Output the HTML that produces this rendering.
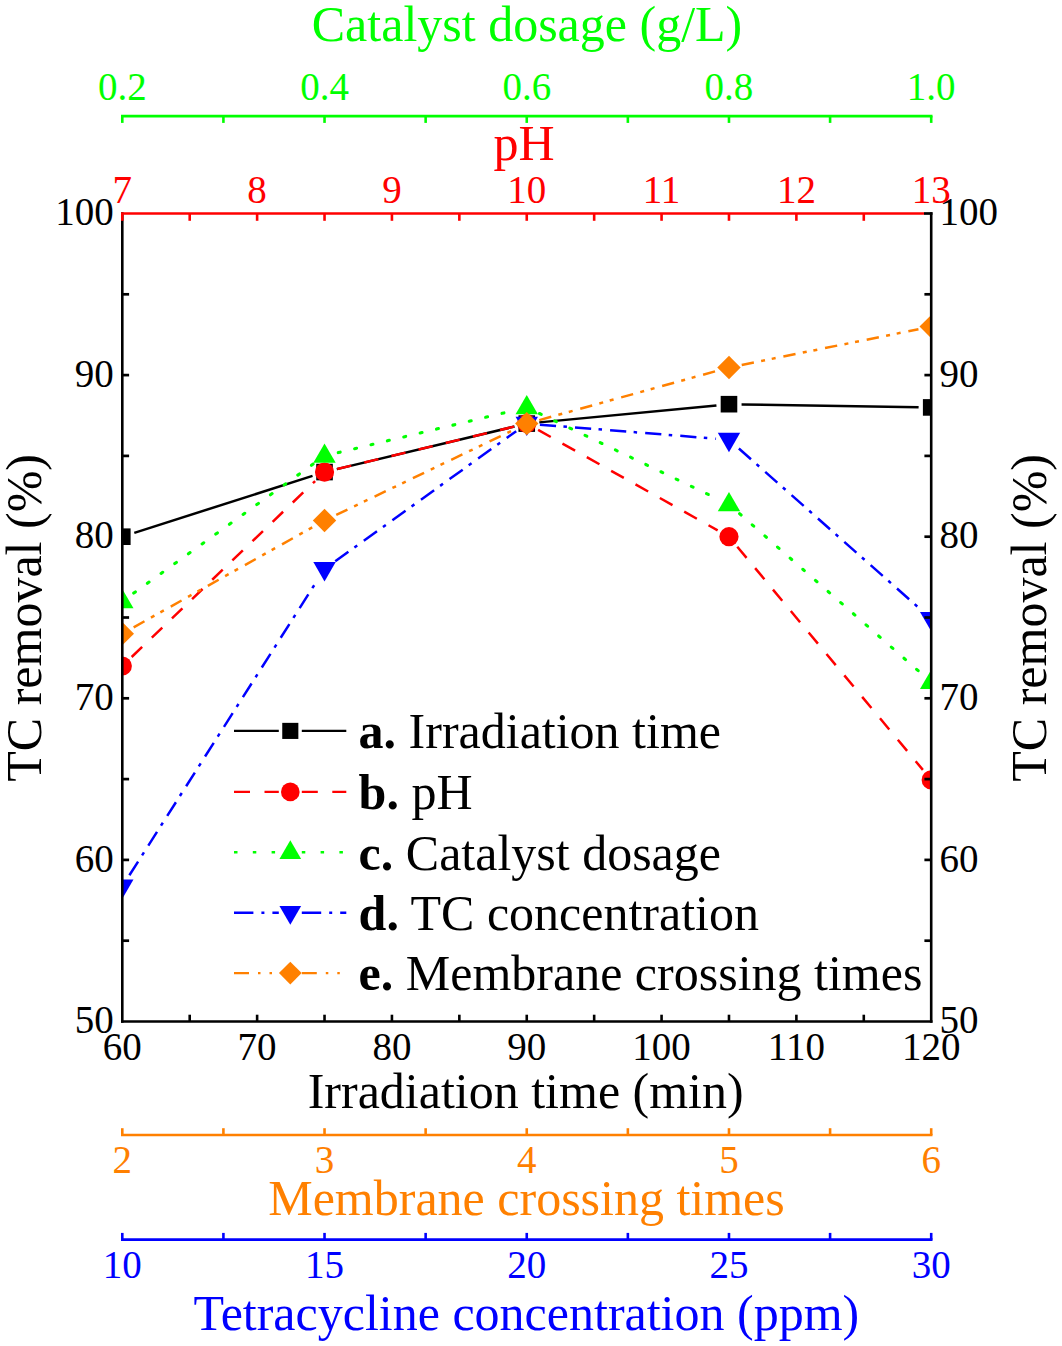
<!DOCTYPE html><html><head><meta charset="utf-8"><style>html,body{margin:0;padding:0;background:#fff;}svg{display:block}</style></head><body>
<svg width="1062" height="1346" viewBox="0 0 1062 1346" font-family='"Liberation Serif", serif'>
<rect width="1062" height="1346" fill="#fff"/>
<defs><clipPath id="pc"><rect x="122.3" y="213.5" width="808.9000000000001" height="808.0"/></clipPath></defs>
<g clip-path="url(#pc)">
<line x1="134.30" y1="532.86" x2="312.52" y2="475.90" stroke="#000000" stroke-width="2.5"/>
<line x1="336.78" y1="469.12" x2="514.50" y2="426.52" stroke="#000000" stroke-width="2.5"/>
<line x1="539.29" y1="422.38" x2="716.43" y2="405.39" stroke="#000000" stroke-width="2.5"/>
<line x1="741.57" y1="404.39" x2="918.60" y2="407.22" stroke="#000000" stroke-width="2.5"/>
<line x1="131.68" y1="656.98" x2="315.14" y2="481.06" stroke="#FF0000" stroke-width="2.5" stroke-dasharray="14.5 13.4"/>
<line x1="337.17" y1="469.03" x2="514.11" y2="426.61" stroke="#FF0000" stroke-width="2.5" stroke-dasharray="14.5 13.4"/>
<line x1="538.10" y1="429.93" x2="717.63" y2="530.35" stroke="#FF0000" stroke-width="2.5" stroke-dasharray="14.5 13.4"/>
<line x1="737.29" y1="546.70" x2="922.89" y2="769.91" stroke="#FF0000" stroke-width="2.5" stroke-dasharray="14.5 13.4"/>
<line x1="133.75" y1="593.11" x2="313.97" y2="463.49" stroke="#00FF00" stroke-width="3.1" stroke-dasharray="2 14.84" stroke-linecap="round"/>
<line x1="338.24" y1="452.61" x2="514.11" y2="410.45" stroke="#00FF00" stroke-width="3.1" stroke-dasharray="2 14.84" stroke-linecap="round"/>
<line x1="539.46" y1="413.52" x2="717.25" y2="498.76" stroke="#00FF00" stroke-width="3.1" stroke-dasharray="2 14.84" stroke-linecap="round"/>
<line x1="739.57" y1="513.69" x2="921.44" y2="673.56" stroke="#00FF00" stroke-width="3.1" stroke-dasharray="2 14.84" stroke-linecap="round"/>
<line x1="129.39" y1="875.27" x2="317.54" y2="579.98" stroke="#0000FF" stroke-width="2.5" stroke-dasharray="16.2 7.4 3.5 8.1"/>
<line x1="335.24" y1="561.31" x2="516.20" y2="431.17" stroke="#0000FF" stroke-width="2.5" stroke-dasharray="16.2 7.4 3.5 8.1"/>
<line x1="539.91" y1="424.63" x2="716.02" y2="438.70" stroke="#0000FF" stroke-width="2.5" stroke-dasharray="16.2 7.4 3.5 8.1"/>
<line x1="738.86" y1="448.49" x2="921.47" y2="610.17" stroke="#0000FF" stroke-width="2.5" stroke-dasharray="16.2 7.4 3.5 8.1"/>
<line x1="133.65" y1="627.31" x2="313.18" y2="526.89" stroke="#FF8000" stroke-width="2.5" stroke-dasharray="12.4 7.4 4 6.8 4 7.9"/>
<line x1="336.25" y1="514.92" x2="515.03" y2="429.20" stroke="#FF8000" stroke-width="2.5" stroke-dasharray="12.4 7.4 4 6.8 4 7.9"/>
<line x1="539.28" y1="420.11" x2="716.45" y2="370.98" stroke="#FF8000" stroke-width="2.5" stroke-dasharray="12.4 7.4 4 6.8 4 7.9"/>
<line x1="741.72" y1="364.93" x2="918.46" y2="329.20" stroke="#FF8000" stroke-width="2.5" stroke-dasharray="12.4 7.4 4 6.8 4 7.9"/>
<rect x="114.00" y="528.40" width="16.60" height="16.60" fill="#000000"/>
<rect x="316.23" y="463.76" width="16.60" height="16.60" fill="#000000"/>
<rect x="518.45" y="415.28" width="16.60" height="16.60" fill="#000000"/>
<rect x="720.68" y="395.89" width="16.60" height="16.60" fill="#000000"/>
<rect x="922.90" y="399.12" width="16.60" height="16.60" fill="#000000"/>
<circle cx="122.30" cy="665.98" r="9.60" fill="#FF0000"/>
<circle cx="324.53" cy="472.06" r="9.60" fill="#FF0000"/>
<circle cx="526.75" cy="423.58" r="9.60" fill="#FF0000"/>
<circle cx="728.98" cy="536.70" r="9.60" fill="#FF0000"/>
<circle cx="931.20" cy="779.91" r="9.60" fill="#FF0000"/>
<polygon points="122.30,588.94 133.50,608.24 111.10,608.24" fill="#00FF00"/>
<polygon points="324.53,443.50 335.73,462.80 313.33,462.80" fill="#00FF00"/>
<polygon points="526.75,395.02 537.95,414.32 515.55,414.32" fill="#00FF00"/>
<polygon points="728.98,491.98 740.18,511.28 717.77,511.28" fill="#00FF00"/>
<polygon points="931.20,669.74 942.40,689.04 920.00,689.04" fill="#00FF00"/>
<polygon points="111.10,879.50 133.50,879.50 122.30,898.80" fill="#0000FF"/>
<polygon points="313.33,562.12 335.73,562.12 324.53,581.42" fill="#0000FF"/>
<polygon points="515.55,416.68 537.95,416.68 526.75,435.98" fill="#0000FF"/>
<polygon points="717.77,432.84 740.18,432.84 728.98,452.14" fill="#0000FF"/>
<polygon points="920.00,611.89 942.40,611.89 931.20,631.19" fill="#0000FF"/>
<polygon points="122.30,621.96 134.00,633.66 122.30,645.36 110.60,633.66" fill="#FF8000"/>
<polygon points="324.53,508.84 336.23,520.54 324.53,532.24 312.83,520.54" fill="#FF8000"/>
<polygon points="526.75,411.88 538.45,423.58 526.75,435.28 515.05,423.58" fill="#FF8000"/>
<polygon points="728.98,355.80 740.68,367.50 728.98,379.20 717.27,367.50" fill="#FF8000"/>
<polygon points="931.20,314.92 942.90,326.62 931.20,338.32 919.50,326.62" fill="#FF8000"/>
</g>
<line x1="122.3" y1="212.2" x2="122.3" y2="1022.85" stroke="#000" stroke-width="2.6"/>
<line x1="931.2" y1="212.2" x2="931.2" y2="1022.85" stroke="#000" stroke-width="2.6"/>
<line x1="121.0" y1="1021.5" x2="932.5" y2="1021.5" stroke="#000" stroke-width="2.7"/>
<line x1="121.0" y1="213.5" x2="924" y2="213.5" stroke="#FF0000" stroke-width="2.7"/>
<line x1="924" y1="213.5" x2="932.5" y2="213.5" stroke="#000" stroke-width="2.7"/>
<line x1="189.71" y1="1021.5" x2="189.71" y2="1014.7" stroke="#000" stroke-width="2.6"/>
<line x1="257.12" y1="1021.5" x2="257.12" y2="1014.7" stroke="#000" stroke-width="2.6"/>
<line x1="324.53" y1="1021.5" x2="324.53" y2="1014.7" stroke="#000" stroke-width="2.6"/>
<line x1="391.93" y1="1021.5" x2="391.93" y2="1014.7" stroke="#000" stroke-width="2.6"/>
<line x1="459.34" y1="1021.5" x2="459.34" y2="1014.7" stroke="#000" stroke-width="2.6"/>
<line x1="526.75" y1="1021.5" x2="526.75" y2="1014.7" stroke="#000" stroke-width="2.6"/>
<line x1="594.16" y1="1021.5" x2="594.16" y2="1014.7" stroke="#000" stroke-width="2.6"/>
<line x1="661.57" y1="1021.5" x2="661.57" y2="1014.7" stroke="#000" stroke-width="2.6"/>
<line x1="728.98" y1="1021.5" x2="728.98" y2="1014.7" stroke="#000" stroke-width="2.6"/>
<line x1="796.38" y1="1021.5" x2="796.38" y2="1014.7" stroke="#000" stroke-width="2.6"/>
<line x1="863.79" y1="1021.5" x2="863.79" y2="1014.7" stroke="#000" stroke-width="2.6"/>
<line x1="122.3" y1="940.7" x2="129.1" y2="940.7" stroke="#000" stroke-width="2.7"/>
<line x1="924.4000000000001" y1="940.7" x2="931.2" y2="940.7" stroke="#000" stroke-width="2.7"/>
<line x1="122.3" y1="859.9" x2="129.1" y2="859.9" stroke="#000" stroke-width="2.7"/>
<line x1="924.4000000000001" y1="859.9" x2="931.2" y2="859.9" stroke="#000" stroke-width="2.7"/>
<line x1="122.3" y1="779.1" x2="129.1" y2="779.1" stroke="#000" stroke-width="2.7"/>
<line x1="924.4000000000001" y1="779.1" x2="931.2" y2="779.1" stroke="#000" stroke-width="2.7"/>
<line x1="122.3" y1="698.3" x2="129.1" y2="698.3" stroke="#000" stroke-width="2.7"/>
<line x1="924.4000000000001" y1="698.3" x2="931.2" y2="698.3" stroke="#000" stroke-width="2.7"/>
<line x1="122.3" y1="617.5" x2="129.1" y2="617.5" stroke="#000" stroke-width="2.7"/>
<line x1="924.4000000000001" y1="617.5" x2="931.2" y2="617.5" stroke="#000" stroke-width="2.7"/>
<line x1="122.3" y1="536.7" x2="129.1" y2="536.7" stroke="#000" stroke-width="2.7"/>
<line x1="924.4000000000001" y1="536.7" x2="931.2" y2="536.7" stroke="#000" stroke-width="2.7"/>
<line x1="122.3" y1="455.9" x2="129.1" y2="455.9" stroke="#000" stroke-width="2.7"/>
<line x1="924.4000000000001" y1="455.9" x2="931.2" y2="455.9" stroke="#000" stroke-width="2.7"/>
<line x1="122.3" y1="375.1" x2="129.1" y2="375.1" stroke="#000" stroke-width="2.7"/>
<line x1="924.4000000000001" y1="375.1" x2="931.2" y2="375.1" stroke="#000" stroke-width="2.7"/>
<line x1="122.3" y1="294.3" x2="129.1" y2="294.3" stroke="#000" stroke-width="2.7"/>
<line x1="924.4000000000001" y1="294.3" x2="931.2" y2="294.3" stroke="#000" stroke-width="2.7"/>
<line x1="122.3" y1="213.5" x2="122.3" y2="220.8" stroke="#FF0000" stroke-width="2.6"/>
<line x1="189.71" y1="213.5" x2="189.71" y2="220.8" stroke="#FF0000" stroke-width="2.6"/>
<line x1="257.12" y1="213.5" x2="257.12" y2="220.8" stroke="#FF0000" stroke-width="2.6"/>
<line x1="324.53" y1="213.5" x2="324.53" y2="220.8" stroke="#FF0000" stroke-width="2.6"/>
<line x1="391.93" y1="213.5" x2="391.93" y2="220.8" stroke="#FF0000" stroke-width="2.6"/>
<line x1="459.34" y1="213.5" x2="459.34" y2="220.8" stroke="#FF0000" stroke-width="2.6"/>
<line x1="526.75" y1="213.5" x2="526.75" y2="220.8" stroke="#FF0000" stroke-width="2.6"/>
<line x1="594.16" y1="213.5" x2="594.16" y2="220.8" stroke="#FF0000" stroke-width="2.6"/>
<line x1="661.57" y1="213.5" x2="661.57" y2="220.8" stroke="#FF0000" stroke-width="2.6"/>
<line x1="728.98" y1="213.5" x2="728.98" y2="220.8" stroke="#FF0000" stroke-width="2.6"/>
<line x1="796.38" y1="213.5" x2="796.38" y2="220.8" stroke="#FF0000" stroke-width="2.6"/>
<line x1="863.79" y1="213.5" x2="863.79" y2="220.8" stroke="#FF0000" stroke-width="2.6"/>
<line x1="121.0" y1="116.1" x2="932.5" y2="116.1" stroke="#00FF00" stroke-width="2.7"/>
<line x1="122.3" y1="116.1" x2="122.3" y2="122.89999999999999" stroke="#00FF00" stroke-width="2.6"/>
<line x1="223.41" y1="116.1" x2="223.41" y2="122.89999999999999" stroke="#00FF00" stroke-width="2.6"/>
<line x1="324.53" y1="116.1" x2="324.53" y2="122.89999999999999" stroke="#00FF00" stroke-width="2.6"/>
<line x1="425.64" y1="116.1" x2="425.64" y2="122.89999999999999" stroke="#00FF00" stroke-width="2.6"/>
<line x1="526.75" y1="116.1" x2="526.75" y2="122.89999999999999" stroke="#00FF00" stroke-width="2.6"/>
<line x1="627.86" y1="116.1" x2="627.86" y2="122.89999999999999" stroke="#00FF00" stroke-width="2.6"/>
<line x1="728.98" y1="116.1" x2="728.98" y2="122.89999999999999" stroke="#00FF00" stroke-width="2.6"/>
<line x1="830.09" y1="116.1" x2="830.09" y2="122.89999999999999" stroke="#00FF00" stroke-width="2.6"/>
<line x1="931.2" y1="116.1" x2="931.2" y2="122.89999999999999" stroke="#00FF00" stroke-width="2.6"/>
<line x1="121.0" y1="1135.0" x2="932.5" y2="1135.0" stroke="#FF8000" stroke-width="2.7"/>
<line x1="122.3" y1="1135.0" x2="122.3" y2="1128.2" stroke="#FF8000" stroke-width="2.6"/>
<line x1="223.41" y1="1135.0" x2="223.41" y2="1128.2" stroke="#FF8000" stroke-width="2.6"/>
<line x1="324.53" y1="1135.0" x2="324.53" y2="1128.2" stroke="#FF8000" stroke-width="2.6"/>
<line x1="425.64" y1="1135.0" x2="425.64" y2="1128.2" stroke="#FF8000" stroke-width="2.6"/>
<line x1="526.75" y1="1135.0" x2="526.75" y2="1128.2" stroke="#FF8000" stroke-width="2.6"/>
<line x1="627.86" y1="1135.0" x2="627.86" y2="1128.2" stroke="#FF8000" stroke-width="2.6"/>
<line x1="728.98" y1="1135.0" x2="728.98" y2="1128.2" stroke="#FF8000" stroke-width="2.6"/>
<line x1="830.09" y1="1135.0" x2="830.09" y2="1128.2" stroke="#FF8000" stroke-width="2.6"/>
<line x1="931.2" y1="1135.0" x2="931.2" y2="1128.2" stroke="#FF8000" stroke-width="2.6"/>
<line x1="121.0" y1="1239.7" x2="932.5" y2="1239.7" stroke="#0000FF" stroke-width="2.7"/>
<line x1="122.3" y1="1239.7" x2="122.3" y2="1232.9" stroke="#0000FF" stroke-width="2.6"/>
<line x1="223.41" y1="1239.7" x2="223.41" y2="1232.9" stroke="#0000FF" stroke-width="2.6"/>
<line x1="324.53" y1="1239.7" x2="324.53" y2="1232.9" stroke="#0000FF" stroke-width="2.6"/>
<line x1="425.64" y1="1239.7" x2="425.64" y2="1232.9" stroke="#0000FF" stroke-width="2.6"/>
<line x1="526.75" y1="1239.7" x2="526.75" y2="1232.9" stroke="#0000FF" stroke-width="2.6"/>
<line x1="627.86" y1="1239.7" x2="627.86" y2="1232.9" stroke="#0000FF" stroke-width="2.6"/>
<line x1="728.98" y1="1239.7" x2="728.98" y2="1232.9" stroke="#0000FF" stroke-width="2.6"/>
<line x1="830.09" y1="1239.7" x2="830.09" y2="1232.9" stroke="#0000FF" stroke-width="2.6"/>
<line x1="931.2" y1="1239.7" x2="931.2" y2="1232.9" stroke="#0000FF" stroke-width="2.6"/>
<text x="122.30" y="99.60" fill="#00FF00" font-size="39" text-anchor="middle">0.2</text>
<text x="324.53" y="99.60" fill="#00FF00" font-size="39" text-anchor="middle">0.4</text>
<text x="526.75" y="99.60" fill="#00FF00" font-size="39" text-anchor="middle">0.6</text>
<text x="728.98" y="99.60" fill="#00FF00" font-size="39" text-anchor="middle">0.8</text>
<text x="931.20" y="99.60" fill="#00FF00" font-size="39" text-anchor="middle">1.0</text>
<text x="122.30" y="202.90" fill="#FF0000" font-size="39" text-anchor="middle">7</text>
<text x="257.12" y="202.90" fill="#FF0000" font-size="39" text-anchor="middle">8</text>
<text x="391.93" y="202.90" fill="#FF0000" font-size="39" text-anchor="middle">9</text>
<text x="526.75" y="202.90" fill="#FF0000" font-size="39" text-anchor="middle">10</text>
<text x="661.57" y="202.90" fill="#FF0000" font-size="39" text-anchor="middle">11</text>
<text x="796.38" y="202.90" fill="#FF0000" font-size="39" text-anchor="middle">12</text>
<text x="931.20" y="202.90" fill="#FF0000" font-size="39" text-anchor="middle">13</text>
<text x="122.30" y="1060.40" fill="#000" font-size="39" text-anchor="middle">60</text>
<text x="257.12" y="1060.40" fill="#000" font-size="39" text-anchor="middle">70</text>
<text x="391.93" y="1060.40" fill="#000" font-size="39" text-anchor="middle">80</text>
<text x="526.75" y="1060.40" fill="#000" font-size="39" text-anchor="middle">90</text>
<text x="661.57" y="1060.40" fill="#000" font-size="39" text-anchor="middle">100</text>
<text x="796.38" y="1060.40" fill="#000" font-size="39" text-anchor="middle">110</text>
<text x="931.20" y="1060.40" fill="#000" font-size="39" text-anchor="middle">120</text>
<text x="122.30" y="1172.80" fill="#FF8000" font-size="39" text-anchor="middle">2</text>
<text x="324.53" y="1172.80" fill="#FF8000" font-size="39" text-anchor="middle">3</text>
<text x="526.75" y="1172.80" fill="#FF8000" font-size="39" text-anchor="middle">4</text>
<text x="728.98" y="1172.80" fill="#FF8000" font-size="39" text-anchor="middle">5</text>
<text x="931.20" y="1172.80" fill="#FF8000" font-size="39" text-anchor="middle">6</text>
<text x="122.30" y="1277.60" fill="#0000FF" font-size="39" text-anchor="middle">10</text>
<text x="324.53" y="1277.60" fill="#0000FF" font-size="39" text-anchor="middle">15</text>
<text x="526.75" y="1277.60" fill="#0000FF" font-size="39" text-anchor="middle">20</text>
<text x="728.98" y="1277.60" fill="#0000FF" font-size="39" text-anchor="middle">25</text>
<text x="931.20" y="1277.60" fill="#0000FF" font-size="39" text-anchor="middle">30</text>
<text x="113.80" y="1033.20" fill="#000" font-size="39" text-anchor="end">50</text>
<text x="939.60" y="1033.20" fill="#000" font-size="39" text-anchor="start">50</text>
<text x="113.80" y="871.60" fill="#000" font-size="39" text-anchor="end">60</text>
<text x="939.60" y="871.60" fill="#000" font-size="39" text-anchor="start">60</text>
<text x="113.80" y="710.00" fill="#000" font-size="39" text-anchor="end">70</text>
<text x="939.60" y="710.00" fill="#000" font-size="39" text-anchor="start">70</text>
<text x="113.80" y="548.40" fill="#000" font-size="39" text-anchor="end">80</text>
<text x="939.60" y="548.40" fill="#000" font-size="39" text-anchor="start">80</text>
<text x="113.80" y="386.80" fill="#000" font-size="39" text-anchor="end">90</text>
<text x="939.60" y="386.80" fill="#000" font-size="39" text-anchor="start">90</text>
<text x="113.80" y="225.20" fill="#000" font-size="39" text-anchor="end">100</text>
<text x="939.60" y="225.20" fill="#000" font-size="39" text-anchor="start">100</text>
<text x="527.00" y="40.70" fill="#00FF00" font-size="50" text-anchor="middle">Catalyst dosage (g/L)</text>
<text x="524.00" y="160.10" fill="#FF0000" font-size="50" text-anchor="middle">pH</text>
<text x="525.70" y="1107.90" fill="#000" font-size="50" text-anchor="middle">Irradiation time (min)</text>
<text x="526.50" y="1215.30" fill="#FF8000" font-size="50" text-anchor="middle">Membrane crossing times</text>
<text x="526.40" y="1330.30" fill="#0000FF" font-size="50" text-anchor="middle">Tetracycline concentration (ppm)</text>
<text transform="translate(41.2,617.9) rotate(-90)" x="0" y="0" fill="#000" font-size="50" text-anchor="middle">TC removal (%)</text>
<text transform="translate(1046.3,617.9) rotate(-90)" x="0" y="0" fill="#000" font-size="50" text-anchor="middle">TC removal (%)</text>
<line x1="234.0" y1="730.90" x2="278.8" y2="730.90" stroke="#000000" stroke-width="2.4"/>
<line x1="301.8" y1="730.90" x2="346.3" y2="730.90" stroke="#000000" stroke-width="2.4"/>
<rect x="282.25" y="722.85" width="16.10" height="16.10" fill="#000000"/>
<text x="358.6" y="748.20" fill="#000" font-size="50"><tspan font-weight="bold">a.</tspan> Irradiation time</text>
<line x1="234.0" y1="791.90" x2="278.8" y2="791.90" stroke="#FF0000" stroke-width="2.4" stroke-dasharray="16 14.5"/>
<line x1="301.8" y1="791.90" x2="346.3" y2="791.90" stroke="#FF0000" stroke-width="2.4" stroke-dasharray="16 14.5"/>
<circle cx="290.30" cy="791.90" r="9.31" fill="#FF0000"/>
<text x="358.6" y="809.20" fill="#000" font-size="50"><tspan font-weight="bold">b.</tspan> pH</text>
<line x1="234.0" y1="852.30" x2="278.8" y2="852.30" stroke="#00FF00" stroke-width="2.4" stroke-dasharray="3.5 15.3"/>
<line x1="301.8" y1="852.30" x2="346.3" y2="852.30" stroke="#00FF00" stroke-width="2.4" stroke-dasharray="3.5 15.3"/>
<polygon points="290.30,840.27 301.16,858.99 279.44,858.99" fill="#00FF00"/>
<text x="358.6" y="869.60" fill="#000" font-size="50"><tspan font-weight="bold">c.</tspan> Catalyst dosage</text>
<line x1="234.0" y1="912.70" x2="278.8" y2="912.70" stroke="#0000FF" stroke-width="2.4" stroke-dasharray="19.4 8 3 8"/>
<line x1="301.8" y1="912.70" x2="346.3" y2="912.70" stroke="#0000FF" stroke-width="2.4" stroke-dasharray="19.4 8 3 8"/>
<polygon points="279.44,906.01 301.16,906.01 290.30,924.73" fill="#0000FF"/>
<text x="358.6" y="930.00" fill="#000" font-size="50"><tspan font-weight="bold">d.</tspan> TC concentration</text>
<line x1="234.0" y1="973.10" x2="278.8" y2="973.10" stroke="#FF8000" stroke-width="2.4" stroke-dasharray="15 9 2.5 9 2.5 9"/>
<line x1="301.8" y1="973.10" x2="346.3" y2="973.10" stroke="#FF8000" stroke-width="2.4" stroke-dasharray="15 9 2.5 9 2.5 9"/>
<polygon points="290.30,961.75 301.65,973.10 290.30,984.45 278.95,973.10" fill="#FF8000"/>
<text x="358.6" y="990.40" fill="#000" font-size="50"><tspan font-weight="bold">e.</tspan> Membrane crossing times</text>
</svg></body></html>
